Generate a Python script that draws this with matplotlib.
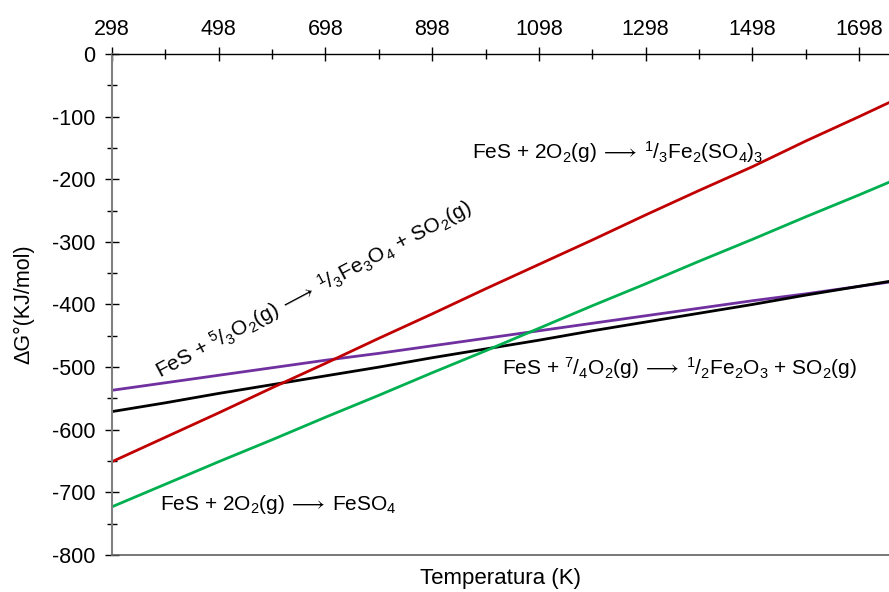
import numpy as np
import matplotlib
matplotlib.use("Agg")
import matplotlib.pyplot as plt
from matplotlib.ticker import MultipleLocator, FixedLocator

plt.rcParams['font.family'] = ['Liberation Sans', 'DejaVu Sans']
plt.rcParams['mathtext.fontset'] = 'custom'
plt.rcParams['mathtext.rm'] = 'Liberation Sans'
plt.rcParams['mathtext.sf'] = 'STIXGeneral'
plt.rcParams['mathtext.default'] = 'regular'
plt.rcParams['axes.unicode_minus'] = False

# Temperatures (K) and standard Gibbs energies (kJ/mol) of FeS oxidation reactions
T = [298, 398, 498, 598, 698, 798, 898, 998, 1098, 1198, 1298, 1398, 1498, 1598, 1698, 1798]
dG_fe2so43 = [-651, -612, -573, -533, -494, -454, -415, -375, -336, -297, -257, -218, -180, -139, -100, -60]
dG_feso4 = [-723, -687, -651, -616, -580, -545, -509, -474, -438, -402, -367, -331, -296, -260, -225, -189]
dG_fe3o4 = [-537, -525, -513, -501, -489, -478, -466, -454, -442, -430, -418, -406, -394, -383, -371, -359]
dG_fe2o3 = [-571, -557, -542, -528, -514, -500, -485, -471, -457, -442, -428, -414, -400, -385, -371, -357]

x_ticks = [298, 498, 698, 898, 1098, 1298, 1498, 1698]

fig = plt.figure(figsize=(8.89, 5.92), dpi=100)
ax = fig.add_axes([0.126, 0.0625, 0.874, 0.8463])

lw = 2.0
ax.plot(T, dG_fe3o4, color='#7030A0', lw=lw)
ax.plot(T, dG_fe2o3, color='black', lw=lw)
ax.plot(T, dG_fe2so43, color='#C00000', lw=lw)
ax.plot(T, dG_feso4, color='#00B050', lw=lw)

ax.set_xlim(298, 1754)
ax.set_ylim(-800, 0)

# x axis drawn along the top (at 0 kJ/mol)
ax.xaxis.tick_top()
ax.xaxis.set_major_locator(FixedLocator(x_ticks))
ax.xaxis.set_minor_locator(FixedLocator([t + 100 for t in x_ticks]))
ax.yaxis.set_major_locator(MultipleLocator(100))
ax.yaxis.set_minor_locator(MultipleLocator(50))
ax.tick_params(axis='x', which='major', direction='inout', length=10, width=1, pad=5, labelsize=15.5)
ax.tick_params(axis='x', which='minor', direction='inout', length=7.5, width=1)
ax.tick_params(axis='y', which='major', direction='inout', length=10, width=1, pad=7, labelsize=15.5)
ax.tick_params(axis='y', which='minor', direction='inout', length=7, width=1)

ax.spines['right'].set_visible(False)
ax.spines['top'].set_color('black')
ax.spines['top'].set_linewidth(1.0)
ax.spines['left'].set_color('#808080')
ax.spines['left'].set_linewidth(1.5)
ax.spines['bottom'].set_color('#606060')
ax.spines['bottom'].set_linewidth(1.2)

ax.set_xlabel('Temperatura (K)', fontsize=16)
ax.xaxis.set_label_position('bottom')
ax.xaxis.set_label_coords(0.5, -0.026)
ax.set_ylabel('ΔG°(KJ/mol)', fontsize=15.5)
ax.yaxis.set_label_coords(-0.100, 0.5)

fs = 15
arr = r'$\,\mathsf{\longrightarrow}\,$'
ax.text(973, -157, r'FeS + 2O$_2$(g)' + arr + r'$^1$/$_3$Fe$_2$(SO$_4$)$_3$', fontsize=fs, va='center', ha='left')
ax.text(388, -720, r'FeS + 2O$_2$(g)' + arr + r'FeSO$_4$', fontsize=fs, va='center', ha='left')
ax.text(1029, -502, r'FeS + $^7$/$_4$O$_2$(g)' + arr + r'$^1$/$_2$Fe$_2$O$_3$ + SO$_2$(g)', fontsize=fs,
        va='center', ha='left')
ax.text(675, -375, r'FeS + $^5$/$_3$O$_2$(g)' + arr + r'$^1$/$_3$Fe$_3$O$_4$ + SO$_2$(g)', fontsize=fs,
        va='center', ha='center', rotation=28, rotation_mode='anchor')

fig.savefig('out.png', dpi=100)
